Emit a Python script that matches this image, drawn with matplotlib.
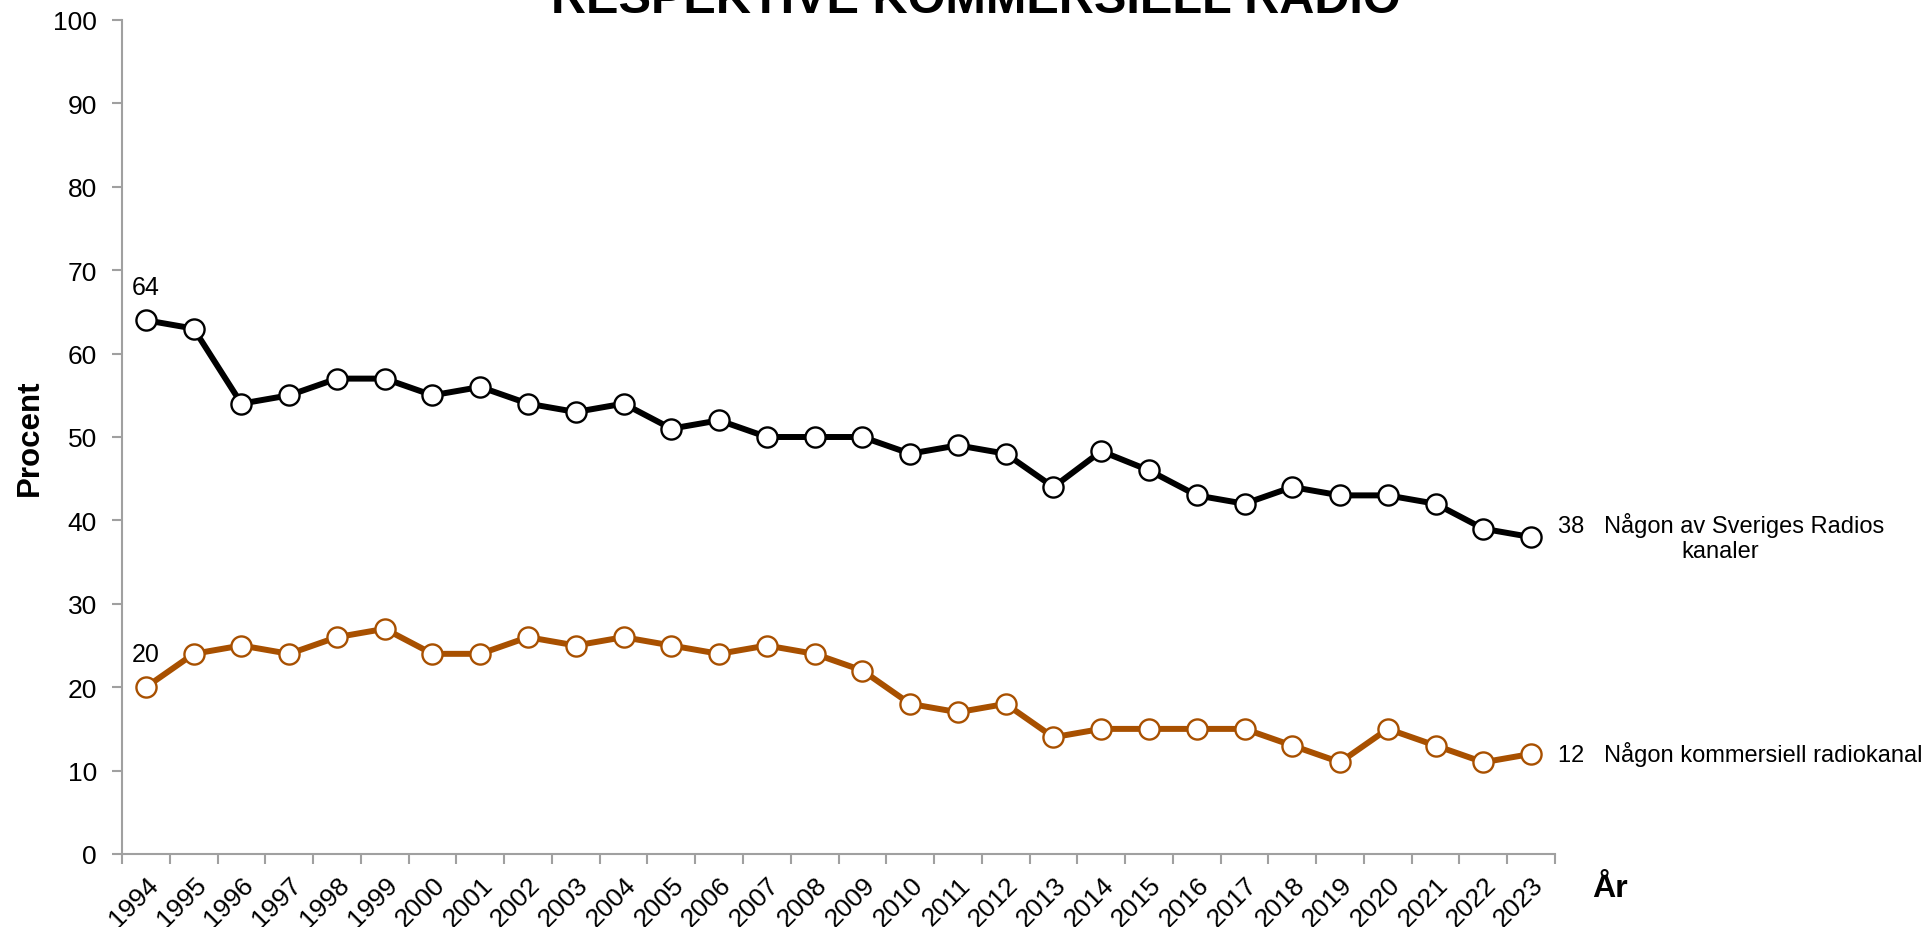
import matplotlib
matplotlib.use("Agg")
from matplotlib import pyplot as plt
from matplotlib.ticker import FixedLocator

plt.rcParams['font.family'] = ['Liberation Sans', 'DejaVu Sans']

# Data
years = [str(y) for y in range(1994, 2024)]
sveriges_radio = [64, 63, 54, 55, 57, 57, 55, 56, 54, 53, 54, 51, 52, 50, 50,
                  50, 48, 49, 48, 44, 48.3, 46, 43, 42, 44, 43, 43, 42, 39, 38]
kommersiell = [20, 24, 25, 24, 26, 27, 24, 24, 26, 25, 26, 25, 24, 25, 24,
               22, 18, 17, 18, 14, 15, 15, 15, 15, 13, 11, 15, 13, 11, 12]
name_sr = "Någon av Sveriges Radios\nkanaler"
name_kom = "Någon kommersiell radiokanal"

black = "#000000"
orange = "#A85000"
axis_grey = "#A0A0A0"

fig = plt.figure(figsize=(19.3, 9.28), dpi=100)
ax = fig.add_axes([122 / 1930, 1 - 855 / 928, (1555 - 122) / 1930, (855 - 21) / 928])

x = list(range(len(years)))
ax.plot(x, sveriges_radio, color=black, lw=4.3, marker='o', ms=14.5,
        mfc='white', mec=black, mew=1.7, zorder=3)
ax.plot(x, kommersiell, color=orange, lw=4.3, marker='o', ms=14.5,
        mfc='white', mec=orange, mew=1.7, zorder=3)

ax.set_xlim(-0.5, len(years) - 0.5)
ax.set_ylim(0, 100)
ax.set_yticks(range(0, 101, 10))
ax.tick_params(axis='y', labelsize=19, length=7, width=1.5, color=axis_grey,
               pad=11)

# category labels at centres, tick marks between categories
ax.set_xticks(x)
ax.set_xticklabels(years, rotation=45, ha='right', rotation_mode='anchor',
                   fontsize=19)
ax.tick_params(axis='x', which='major', length=0, pad=13)
ax.xaxis.set_minor_locator(FixedLocator([i - 0.5 for i in range(len(years) + 1)]))
ax.tick_params(axis='x', which='minor', length=7, width=1.5, color=axis_grey)

for side in ['top', 'right']:
    ax.spines[side].set_visible(False)
for side in ['left', 'bottom']:
    ax.spines[side].set_color(axis_grey)
    ax.spines[side].set_linewidth(1.5)

# first value labels
ax.annotate(str(sveriges_radio[0]), (0, sveriges_radio[0]), xytext=(0, 15),
            textcoords='offset points', ha='center', va='bottom', fontsize=18)
ax.annotate(str(kommersiell[0]), (0, kommersiell[0]), xytext=(0, 15),
            textcoords='offset points', ha='center', va='bottom', fontsize=18)

# last value labels with series names
ax.annotate(f"{sveriges_radio[-1]}   {name_sr}", (x[-1], sveriges_radio[-1]),
            xytext=(19, 0), textcoords='offset points', ha='left', va='center',
            multialignment='center', fontsize=17, annotation_clip=False)
ax.annotate(f"{kommersiell[-1]}   {name_kom}", (x[-1], kommersiell[-1]),
            xytext=(19, 0), textcoords='offset points', ha='left', va='center',
            fontsize=17, annotation_clip=False)

fig.text(30 / 1930, 1 - 438 / 928, "Procent", rotation=90, ha='center',
         va='center', fontsize=22.5, fontweight='bold')
fig.text(1592 / 1930, 1 - 897 / 928, "År", ha='left', va='baseline',
         fontsize=23, fontweight='bold')

# title, mostly cut off at the top in the original
fig.text(976 / 1930, 1 - 13 / 928, "RESPEKTIVE KOMMERSIELL RADIO",
         ha='center', va='baseline', fontsize=35, fontweight='bold')

fig.savefig("out.png", dpi=100)
